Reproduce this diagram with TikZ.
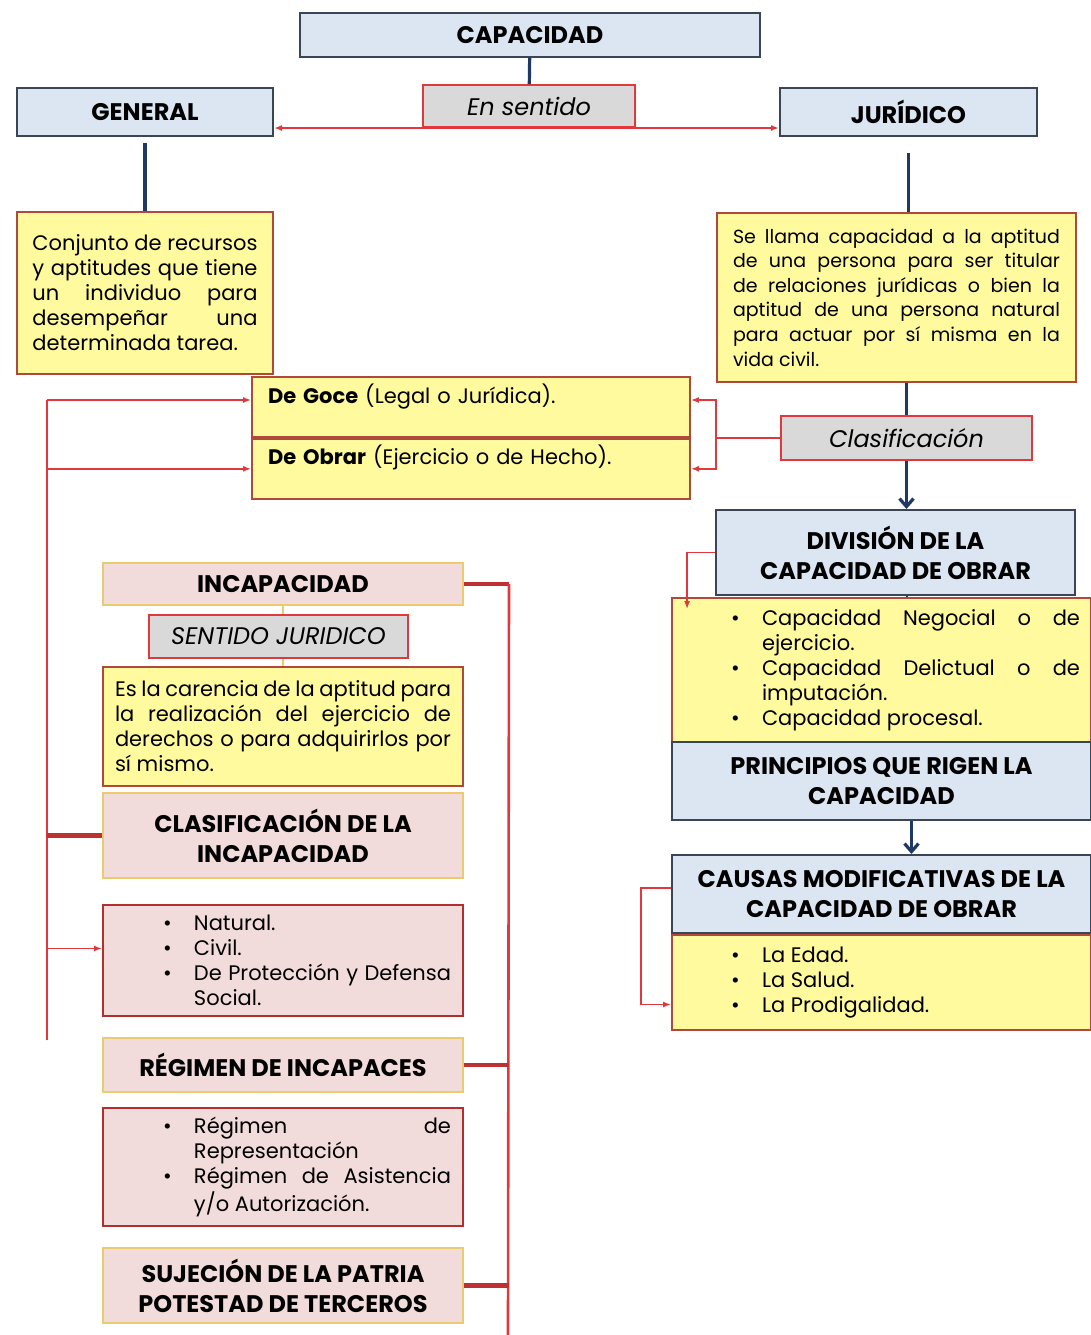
\documentclass[tikz,border=0pt]{standalone}
\usepackage{fontspec}
\setmainfont{Poppins}
\usepackage{xcolor}
\usepackage{tikz}
\usetikzlibrary{arrows.meta,positioning,calc}

\definecolor{azulcaja}{HTML}{DCE6F2}
\definecolor{azulborde}{HTML}{3A4556}
\definecolor{amarillo}{HTML}{FFFA9E}
\definecolor{bordeamar}{HTML}{B0493A}
\definecolor{rosa}{HTML}{F2DCDB}
\definecolor{ocre}{HTML}{EBCB70}
\definecolor{gris}{HTML}{D9D9D9}
\definecolor{rojo}{HTML}{E0393B}
\definecolor{marino}{HTML}{1F3864}

\newcommand{\vineta}[1]{\noindent\hangindent=39.5pt\hangafter=1\makebox[39.5pt][l]{\hspace{24pt}\textbullet}#1\par}

\hyphenpenalty=10000
\exhyphenpenalty=10000

\begin{document}
\begin{tikzpicture}[
    x=0.5pt, y=-0.5pt,
    titulo/.style={rectangle, draw=azulborde, line width=1pt, fill=azulcaja, font=\fontsize{12}{15}\selectfont\bfseries, align=center},
    definicion/.style={rectangle, draw=bordeamar, line width=0.9pt, fill=amarillo, font=\fontsize{10.5}{12.5}\selectfont, align=justify},
    etiqueta/.style={rectangle, draw=rojo, line width=0.9pt, fill=gris, font=\fontsize{12}{14}\selectfont\itshape},
    fila/.style={rectangle, draw=bordeamar, line width=0.9pt, fill=amarillo, font=\fontsize{10.5}{12.5}\selectfont, align=left, minimum width=219pt, minimum height=30pt, text width=203pt, inner xsep=8pt, text height=7pt, text depth=11pt},
    incap/.style={rectangle, draw=ocre, line width=1pt, fill=rosa, font=\fontsize{12}{15}\selectfont\bfseries, align=center, minimum width=180pt},
    lista/.style={rectangle, draw=rojo!80!black, line width=0.9pt, fill=rosa, font=\fontsize{10.5}{12.5}\selectfont, align=justify, text width=168pt, inner xsep=6pt},
    listader/.style={rectangle, draw=bordeamar, line width=0.9pt, fill=amarillo, font=\fontsize{10.5}{12.5}\selectfont, align=justify, text width=198.5pt, inner xsep=5.5pt},
    enlace/.style={draw=marino, line width=1.6pt},
    flecha/.style={enlace, -{Straight Barb[length=4pt,width=7pt]}},
    linearoja/.style={draw=rojo, line width=0.8pt},
    flecharoja/.style={linearoja, -{Latex[length=4pt,width=3pt]}},
    tramo/.style={draw=rojo!85!black, line width=2.2pt},
    guia/.style={draw=ocre, line width=1pt}
]
    \fill[white] (0,0) rectangle (1091,1335);
    \useasboundingbox (0,0) rectangle (1091,1335);

    % upper part
    \node [titulo, minimum width=230pt, minimum height=22pt] (capacidad) at (530,35) {CAPACIDAD};
    \node [etiqueta, minimum width=106pt, minimum height=21pt] (sentido) at (529,106) {En sentido};
    \node [titulo, minimum width=128pt, minimum height=24pt] (general) at (145,112) {GENERAL};
    \node [titulo, minimum width=128.5pt, minimum height=24pt] (juridico) at (908.5,112) {JURÍDICO};
    \node [definicion, text width=112.5pt, inner xsep=7.75pt, minimum height=81pt] (defgeneral) at (145,293)
        {Conjunto de recursos y aptitudes que tiene un individuo para desempeñar una determinada tarea.};
    \node [definicion, font=\fontsize{9.5}{12.3}\selectfont, text width=163.5pt, inner xsep=8pt, minimum height=84.5pt] (defjuridico) at (896.5,297.5)
        {Se llama capacidad a la aptitud de una persona para ser titular de relaciones jurídicas o bien la aptitud de una persona natural para actuar por sí misma en la vida civil.};
    \node [etiqueta, minimum width=125.5pt, minimum height=22pt] (clasif) at (906.5,438) {Clasificación};
    \node [fila] (goce) at (471,407) {\textbf{De Goce} (Legal o Jurídica).};
    \node [fila, below=0pt of goce] (obrar) {\textbf{De Obrar} (Ejercicio o de Hecho).};

    % right column
    \node [titulo, minimum width=179.5pt, minimum height=42.5pt] (division) at (895.5,552.5) {DIVISIÓN DE LA\\CAPACIDAD DE OBRAR};
    \node [listader, minimum height=72pt] (divlista) at (881.5,670)
        {\vineta{Capacidad Negocial o de ejercicio.}\vineta{Capacidad Delictual o de imputación.}\vineta{Capacidad procesal.}};
    \node [titulo, minimum width=209.5pt, minimum height=39pt] (principios) at (881.5,781) {PRINCIPIOS QUE RIGEN LA\\CAPACIDAD};
    \node [titulo, minimum width=209.5pt, minimum height=39pt] (causas) at (881.5,894) {CAUSAS MODIFICATIVAS DE LA\\CAPACIDAD DE OBRAR};
    \node [listader, minimum height=47.5pt] (causaslista) at (881.5,982.5)
        {\vineta{La Edad.}\vineta{La Salud.}\vineta{La Prodigalidad.}};

    % left column
    \node [incap, minimum height=21pt] (incapacidad) at (283,584) {INCAPACIDAD};
    \node [etiqueta, minimum width=129.5pt, minimum height=21.5pt] (sentjur) at (278.5,636.5) {SENTIDO JURIDICO};
    \node [definicion, text width=168pt, inner xsep=6pt, minimum height=59.5pt] (defincap) at (283,726.5)
        {Es la carencia de la aptitud para la realización del ejercicio de derechos o para adquirirlos por sí mismo.};
    \node [incap, minimum height=42.5pt] (clasincap) at (283,835.5) {CLASIFICACIÓN DE LA\\INCAPACIDAD};
    \node [lista, minimum height=55.5pt] (claselista) at (283,960.5)
        {\vineta{Natural.}\vineta{Civil.}\vineta{De Protección y Defensa Social.}};
    \node [incap, minimum height=27pt] (regimen) at (283,1065) {RÉGIMEN DE INCAPACES};
    \node [lista, minimum height=59pt] (regimenlista) at (283,1167)
        {\vineta{Régimen de Representación}\vineta{Régimen de Asistencia\linebreak y/o Autorización.}};
    \node [incap, minimum height=37.5pt] (sujecion) at (283,1285.5) {SUJECIÓN DE LA PATRIA\\POTESTAD DE TERCEROS};

    % dark connectors
    \draw [enlace] (capacidad) -- (sentido);
    \draw [enlace, shorten <=3pt] (general) -- (defgeneral);
    \draw [enlace, shorten <=8pt] (juridico.south) -- (juridico.south |- defjuridico.north);
    \draw [enlace] (clasif.north |- defjuridico.south) -- (clasif.north);
    \draw [flecha] (clasif) -- (clasif.south |- division.north);
    \draw [enlace, line width=1pt] (division.south -| clasif.south) -- (divlista.north -| clasif.south);
    \draw [flecha] ([xshift=15pt]principios.south) -- ([xshift=15pt]causas.north);

    % red connectors
    \draw [linearoja, {Latex[length=4pt,width=3pt]}-{Latex[length=4pt,width=3pt]}] ([yshift=-8pt]general.east) -- ([yshift=-8pt]juridico.west);
    \draw [linearoja] (clasif.west) -- ++(-32pt,0pt) coordinate (ramal);
    \draw [flecharoja] (ramal) |- ([yshift=3.5pt]goce.east);
    \draw [flecharoja] (ramal) |- (obrar.east);

    \coordinate (espina) at (47,400);
    \coordinate (espinafin) at (47,1040);
    \coordinate (claseent) at ([yshift=6pt]claselista.west);
    \draw [linearoja] (espina) -- (espinafin);
    \draw [flecharoja] (espina) -- (espina -| goce.west);
    \draw [flecharoja] (espina |- obrar.west) -- (obrar.west);
    \draw [tramo] (espina |- clasincap.west) -- (clasincap.west);
    \draw [flecharoja] (espina |- claseent) -- (claseent);

    \coordinate (pie) at (508,1335);
    \draw [tramo] (incapacidad.east) -- ++(22.5pt,0pt) coordinate (espinader);
    \draw [linearoja, line width=1.3pt] (espinader) -- (pie);
    \draw [tramo] (regimen.east) -- (regimen.east -| espinader);
    \draw [tramo] (sujecion.east) -- (sujecion.east -| espinader);

    \draw [guia] (incapacidad.south) -- (incapacidad.south |- sentjur.north);
    \draw [guia] (defincap.north |- sentjur.south) -- (defincap.north);

    \coordinate (diventrada) at ($(divlista.north west)+(8pt,-6pt)$);
    \draw [flecharoja] (division.west) -| (diventrada);
    \coordinate (causasent) at ([yshift=-11pt]causaslista.west);
    \draw [flecharoja] ([yshift=3pt]causas.west) -- ++(-15pt,0pt) |- (causasent);
\end{tikzpicture}
\end{document}
